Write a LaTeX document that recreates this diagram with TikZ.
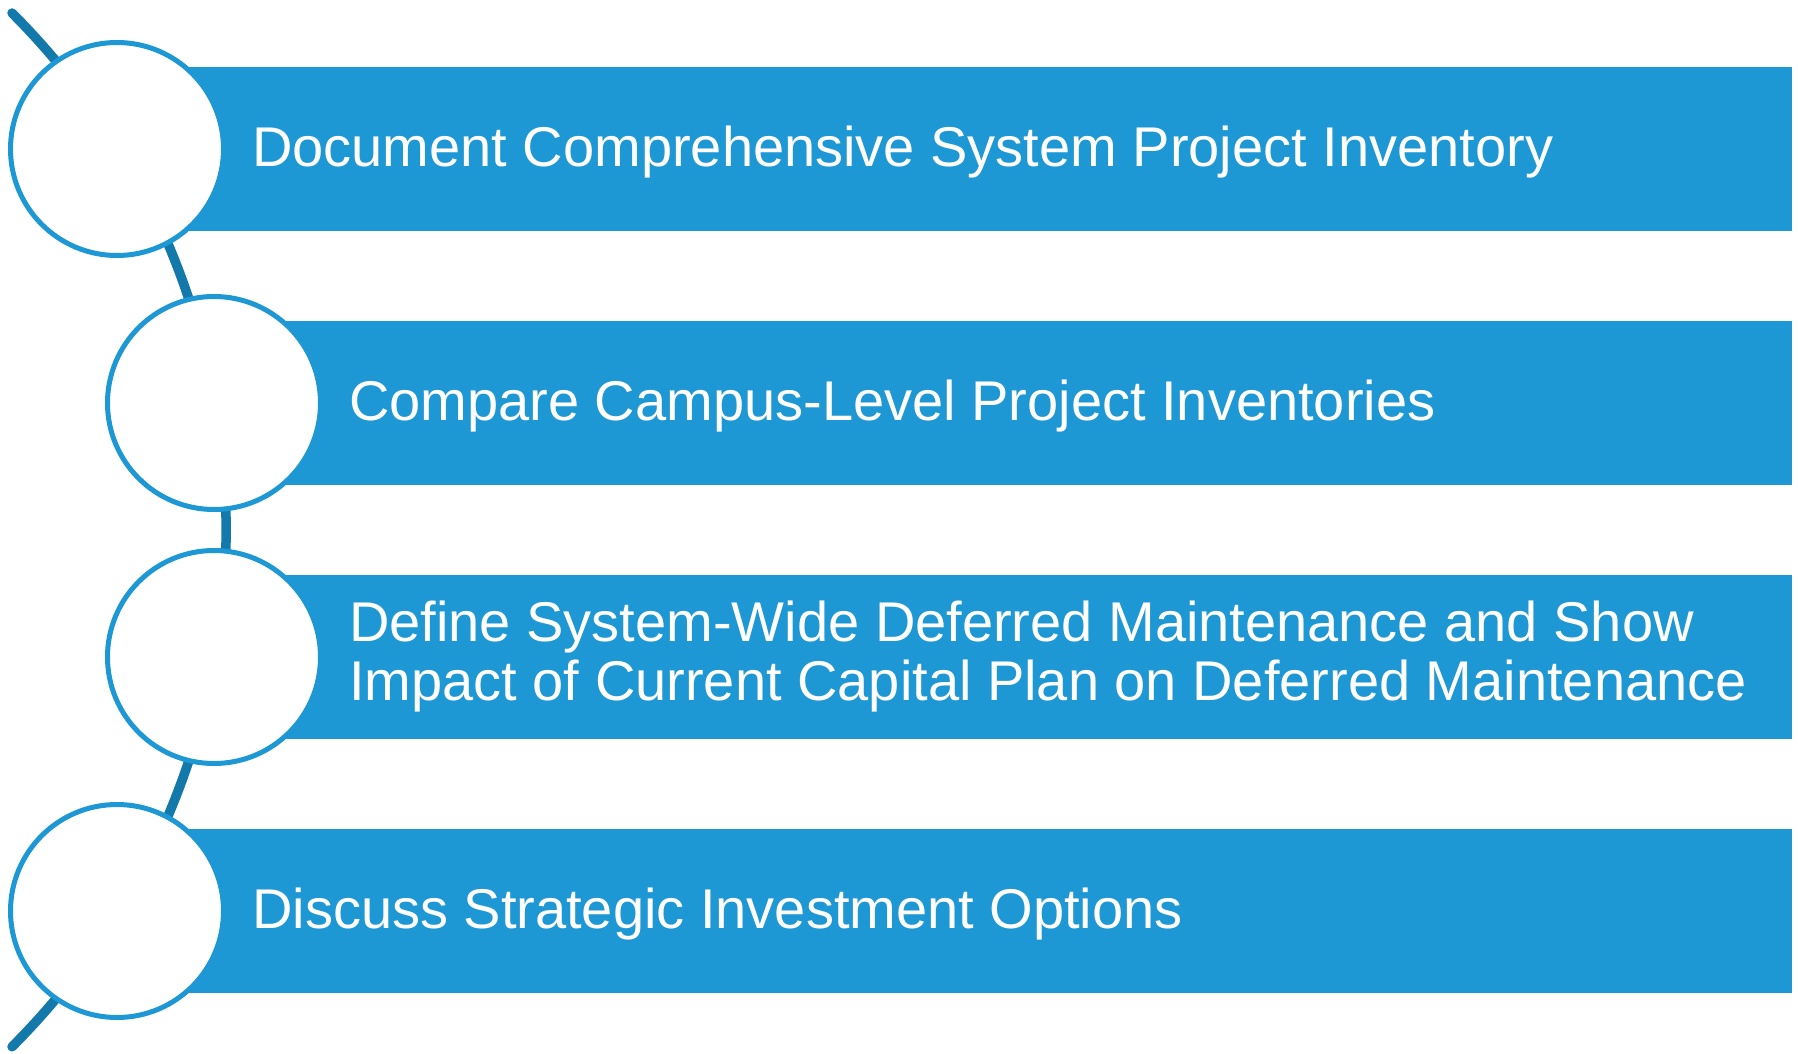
\documentclass[tikz,border=0pt]{standalone}
\usepackage{fontspec}
\setmainfont{Liberation Sans}
\definecolor{barblue}{RGB}{29,152,213}
\definecolor{spineblue}{RGB}{19,120,170}
\begin{document}
\begin{tikzpicture}[x=1pt,y=-1pt,
  bar/.style={fill=barblue, draw=none},
  ring/.style={circle, draw=barblue, line width=5pt, fill=white,
    minimum size=213pt, inner sep=0pt},
  label/.style={text=white, inner sep=0pt, align=left,
    font=\fontsize{56}{59}\selectfont},
  spine/.style={draw=spineblue, line width=9.5pt, line cap=round}]
  \useasboundingbox (0,0) rectangle (1798,1054);

  % curved spine behind the circles
  \coordinate (spinetop) at (12,13);
  \draw[spine] (spinetop) arc[start angle=45, end angle=-45, radius=731pt];

  % bars
  \fill[bar] (188,67) rectangle (1792,231);
  \fill[bar] (285,321) rectangle (1792,485);
  \fill[bar] (285,575) rectangle (1792,739);
  \fill[bar] (188,829) rectangle (1792,993);

  % circles
  \node[ring] (c1) at (117,149) {};
  \node[ring] (c2) at (214,403) {};
  \node[ring] (c3) at (214,657) {};
  \node[ring] (c4) at (117,911) {};

  % labels
  \node[label, anchor=base west] (t1) at (252,166) {Document Comprehensive System Project Inventory};
  \node[label, anchor=base west] (t2) at (349,420) {Compare Campus-Level Project Inventories};
  \node[label, anchor=west] (t3) at (349,657) {Define System-Wide Deferred Maintenance and Show\\Impact of Current Capital Plan on Deferred Maintenance};
  \node[label, anchor=base west] (t4) at (252,928) {Discuss Strategic Investment Options};
\end{tikzpicture}
\end{document}
